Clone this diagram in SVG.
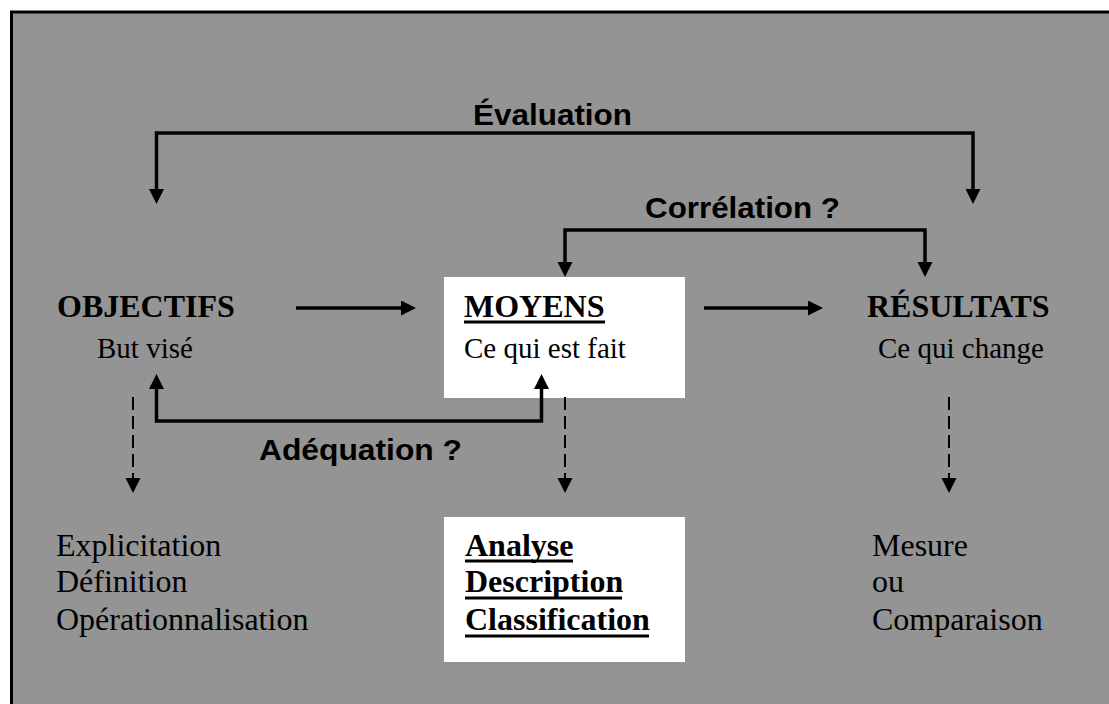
<svg xmlns="http://www.w3.org/2000/svg" width="1109" height="704" viewBox="0 0 1109 704">
<style>
.bg{fill:#949494;stroke:#000;stroke-width:3}
.box{fill:#fff;stroke:none}
.conn{fill:none;stroke:#000;stroke-width:3.5;stroke-linejoin:miter}
.dash{fill:none;stroke:#000;stroke-width:2;stroke-dasharray:13 6}
.ttl{font-family:"Liberation Serif","Times New Roman",serif;font-weight:bold;font-size:32px;fill:#000}
.sub{font-family:"Liberation Serif","Times New Roman",serif;font-size:29px;fill:#000}
.lst{font-family:"Liberation Serif","Times New Roman",serif;font-size:32px;fill:#000}
.lstb{font-family:"Liberation Serif","Times New Roman",serif;font-weight:bold;font-size:32px;fill:#000}
.lbl{font-family:"Liberation Sans",Arial,sans-serif;font-weight:bold;font-size:30px;fill:#000}
.ul{stroke:#000;stroke-width:3}
</style>
<defs>
<marker id="ah" markerUnits="userSpaceOnUse" markerWidth="16" markerHeight="16" refX="2" refY="7.5" orient="auto-start-reverse">
<path d="M0,0 L15,7.5 L0,15 Z" fill="#000"/>
</marker>
</defs>
<rect class="bg" x="11.5" y="12" width="1110" height="710"/>

<g id="node-moyens">
<rect class="box" x="444" y="277" width="241" height="121"/>
<text class="ttl" x="464" y="317">MOYENS</text>
<line class="ul" x1="464" y1="322" x2="605" y2="322"/>
<text class="sub" x="464" y="358">Ce qui est fait</text>
</g>

<g id="node-objectifs">
<text class="ttl" x="57" y="317">OBJECTIFS</text>
<text class="sub" x="97" y="358">But visé</text>
</g>

<g id="node-resultats">
<text class="ttl" x="867" y="317">RÉSULTATS</text>
<text class="sub" x="878" y="358">Ce qui change</text>
</g>

<g id="node-obj-list">
<text class="lst" x="56" y="556">Explicitation</text>
<text class="lst" x="56" y="592">Définition</text>
<text class="lst" x="56" y="630">Opérationnalisation</text>
</g>

<g id="node-moy-list">
<rect class="box" x="444" y="517" width="241" height="145"/>
<text class="lstb" x="465" y="556">Analyse</text>
<line class="ul" x1="465" y1="561" x2="573" y2="561"/>
<text class="lstb" x="465" y="592">Description</text>
<line class="ul" x1="465" y1="598" x2="622" y2="598"/>
<text class="lstb" x="465" y="630">Classification</text>
<line class="ul" x1="465" y1="636" x2="649" y2="636"/>
</g>

<g id="node-res-list">
<text class="lst" x="872" y="556">Mesure</text>
<text class="lst" x="872" y="592">ou</text>
<text class="lst" x="872" y="630">Comparaison</text>
</g>

<g id="connectors">
<path class="conn" d="M973,191 L973,133 L156.5,133 L156.5,191" marker-start="url(#ah)" marker-end="url(#ah)"/>
<text class="lbl" x="473" y="125" textLength="159" lengthAdjust="spacingAndGlyphs">Évaluation</text>
<path class="conn" d="M925,264 L925,230 L565,230 L565,264" marker-start="url(#ah)" marker-end="url(#ah)"/>
<text class="lbl" x="645" y="218" textLength="195" lengthAdjust="spacingAndGlyphs">Corrélation ?</text>
<line class="conn" x1="296" y1="308" x2="403" y2="308" marker-end="url(#ah)"/>
<line class="conn" x1="704" y1="308" x2="810" y2="308" marker-end="url(#ah)"/>
<path class="conn" d="M156.5,387 L156.5,421 L541.5,421 L541.5,387" marker-start="url(#ah)" marker-end="url(#ah)"/>
<text class="lbl" x="259" y="460" textLength="203" lengthAdjust="spacingAndGlyphs">Adéquation ?</text>
<line class="dash" x1="133" y1="397" x2="133" y2="480" marker-end="url(#ah)"/>
<line class="dash" x1="565" y1="397" x2="565" y2="480" marker-end="url(#ah)"/>
<line class="dash" x1="949" y1="397" x2="949" y2="480" marker-end="url(#ah)"/>
</g>
</svg>
